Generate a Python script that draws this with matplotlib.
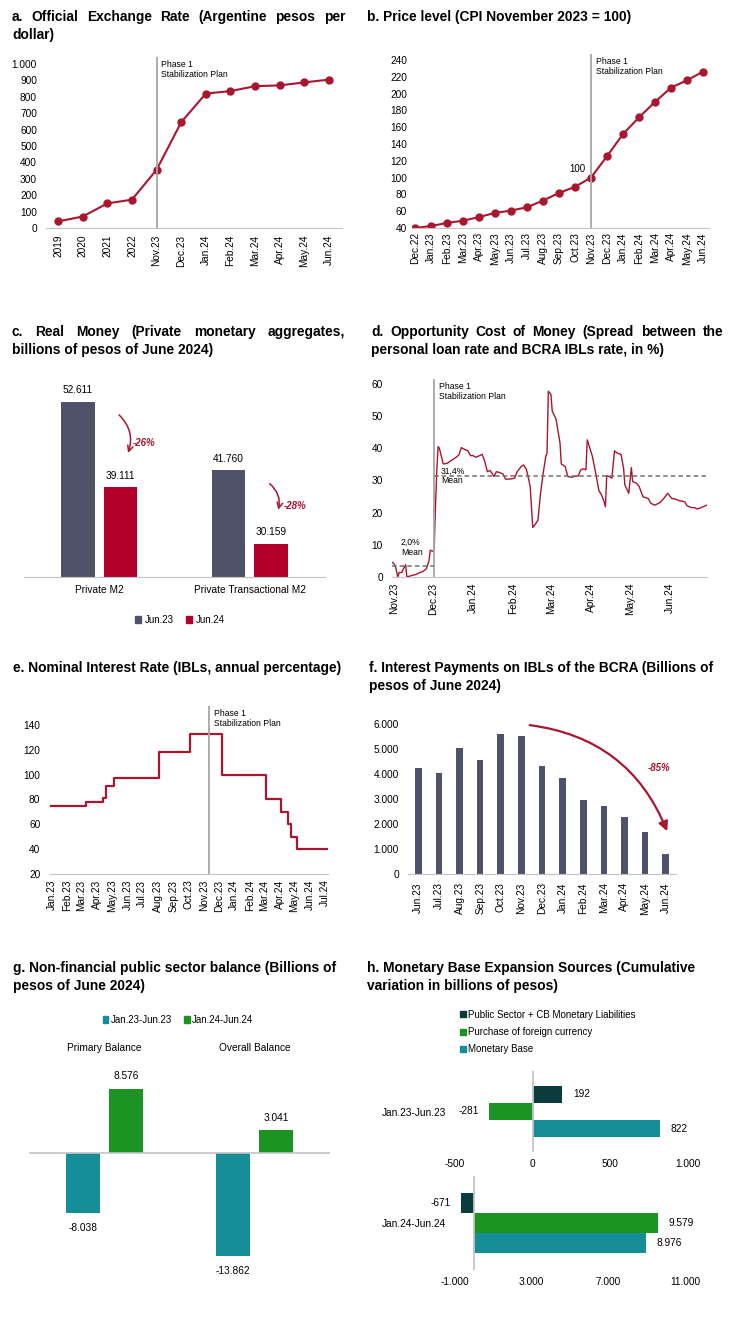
import matplotlib
matplotlib.use("Agg")
import matplotlib.pyplot as plt
import matplotlib.dates as mdates
from matplotlib.patches import Patch
import numpy as np
import pandas as pd

plt.rcParams['font.family'] = ['Liberation Sans', 'DejaVu Sans']

W, H = 732, 1332

# a. official exchange rate
fx_labels = ['2019', '2020', '2021', '2022', 'Nov.23', 'Dec.23', 'Jan.24', 'Feb.24',
             'Mar.24', 'Apr.24', 'May.24', 'Jun.24']
fx_values = [40, 70, 150, 173, 355, 645, 820, 835, 865, 870, 888, 905]

# b. CPI
cpi_labels = ['Dec.22', 'Jan.23', 'Feb.23', 'Mar.23', 'Apr.23', 'May.23', 'Jun.23', 'Jul.23',
              'Aug.23', 'Sep.23', 'Oct.23', 'Nov.23', 'Dec.23', 'Jan.24', 'Feb.24', 'Mar.24',
              'Apr.24', 'May.24', 'Jun.24']
cpi_values = [40, 42.4, 46, 48.7, 53, 58, 60.7, 64.7, 72.6, 81.7, 89, 100, 125.5, 151.7,
              171.6, 190, 207, 215.7, 226]

# c. real money
money_groups = ['Private M2', 'Private Transactional M2']
money_jun23 = [52611, 41760]
money_jun24 = [39111, 30159]
money_change = ['-26%', '-28%']

# d. opportunity cost (days since 2023-11-01)
spread_start = '2023-11-01'
spread_days = [-1, 1, 3, 4, 6, 7, 9, 10, 14, 17, 20, 22, 25, 27, 28, 30, 31, 32, 33, 34, 35,
               38, 41, 45, 48, 50, 52, 54, 57, 59, 61, 63, 66, 68, 70, 72, 74, 76, 77, 79, 81,
               84, 85, 86, 89, 92, 93, 95, 98, 100, 102, 104, 105, 107, 109, 111, 113, 115,
               117, 118, 119, 121, 122, 124, 125, 128, 129, 132, 134, 137, 139, 142, 144, 146,
               148, 149, 151, 153, 156, 158, 160, 162, 163, 164, 166, 168, 170, 172, 175, 177,
               178, 181, 183, 184, 187, 189, 192, 196, 198, 201, 205, 208, 211, 214, 217, 220,
               224, 226, 229, 232, 234, 237, 241]
spread_values = [4.5, 3.6, 0, 1.4, 1.4, 2.3, 3.8, 0, 0.5, 0.8, 1.4, 1.6, 2.6, 5, 8.3, 8, 8.5,
                 21.8, 32.7, 40.5, 40, 35.1, 35.3, 36.4, 37.2, 37.9, 40.2, 39.7, 39.2, 37.7,
                 37.7, 37.2, 37.7, 38.1, 35.9, 32.7, 33.1, 32, 31.2, 32.7, 32.5, 32, 31.2,
                 30.4, 30.4, 30.6, 30.7, 32.7, 34.3, 34.8, 33.5, 30.1, 28.1, 15.4, 16.4, 17.7,
                 26, 32.2, 37.4, 38.5, 57.7, 56.7, 51.5, 49.9, 48.9, 41.6, 35.1, 34.3, 31.2,
                 31, 31.2, 31.4, 33.3, 33.6, 33.3, 42.6, 40, 37.4, 31.2, 26.8, 25.5, 23.4,
                 21.8, 31.5, 31.2, 30.7, 39.2, 38.5, 38.1, 33.8, 28.6, 26, 34, 29.6, 29.1,
                 28.1, 24.9, 24.4, 22.9, 22.3, 23.1, 24.4, 26, 24.4, 24.2, 23.7, 23.4, 22.1,
                 21.6, 21.5, 21.1, 21.6, 22.3]
spread_plan_date = '2023-12-02'
mean_levels = [3.3, 31.4]
mean_labels = ['2,0%', '31,4%']

# e. IBL nominal rate (step changes)
rate_dates = ['2022-12-29', '2023-03-11', '2023-04-14', '2023-04-19', '2023-05-05',
              '2023-08-04', '2023-10-05', '2023-12-08', '2024-03-04', '2024-04-03',
              '2024-04-17', '2024-04-24', '2024-05-06', '2024-07-07']
rate_values = [75, 78, 81, 91, 97, 118, 133, 100, 80, 70, 60, 50, 40, 40]
rate_plan_date = '2023-11-12'

# f. interest payments on IBLs
ibl_labels = ['Jun.23', 'Jul.23', 'Aug.23', 'Sep.23', 'Oct.23', 'Nov.23', 'Dec.23', 'Jan.24',
              'Feb.24', 'Mar.24', 'Apr.24', 'May.24', 'Jun.24']
ibl_values = [4240, 4030, 5010, 4550, 5600, 5520, 4290, 3830, 2960, 2720, 2280, 1680, 800]
ibl_change = '-85%'

# g. public sector balance
balance_groups = ['Primary Balance', 'Overall Balance']
balance_2023 = [-8038, -13862]
balance_2024 = [8576, 3041]

# h. monetary base sources
mb_series = ['Public Sector + CB Monetary Liabilities', 'Purchase of foreign currency',
             'Monetary Base']
mb_2023 = [192, -281, 822]
mb_2024 = [-671, 9579, 8976]

RED_LINE = '#A8162F'
RED_BAR = '#B3002A'
SLATE = '#50526A'
TEAL = '#168E97'
GREEN = '#1C9322'
DARK = '#0B3C3D'
VGRAY = '#A6A6A6'
AXGRAY = '#C4C4C4'
TICK = 7.3


def fmt(v):
    return f'{v:,}'.replace(',', '.')


fig = plt.figure(figsize=(W / 100, H / 100), dpi=100)
renderer = fig.canvas.get_renderer()


def axes_px(left, top, right, bottom):
    return fig.add_axes([left / W, 1 - bottom / H, (right - left) / W, (bottom - top) / H])


def clean(ax, ypad=6.5, xpad=4):
    for s in ['top', 'right', 'left']:
        ax.spines[s].set_visible(False)
    ax.spines['bottom'].set_color(AXGRAY)
    ax.tick_params(length=0, labelsize=TICK)
    ax.tick_params(axis='y', pad=ypad)
    ax.tick_params(axis='x', pad=xpad)


def title(x0, y0, lines, width=None):
    for i, line in enumerate(lines):
        y = 1 - (y0 + i * 18) / H
        if width is None or i == len(lines) - 1:
            fig.text(x0 / W, y, line, fontsize=9.9, fontweight='bold', va='center')
            continue
        words = line.split()
        texts = [fig.text(0, y, w, fontsize=9.9, fontweight='bold', va='center') for w in words]
        widths = [t.get_window_extent(renderer).width for t in texts]
        gap = (width - sum(widths)) / (len(words) - 1)
        x = x0
        for t, w in zip(texts, widths):
            t.set_x(x / W)
            x += w + gap


def phase_label(ax, x):
    ax.axvline(x, color=VGRAY, lw=1.3)
    ax.annotate('Phase 1\nStabilization Plan', xy=(x, 1), xycoords=('data', 'axes fraction'),
                xytext=(3.5, -2), textcoords='offset points', va='top', ha='left',
                fontsize=6.2, linespacing=1.15)


# ---------- a ----------
title(12, 17, ['a. Official Exchange Rate (Argentine pesos per', 'dollar)'], width=333)
ax = axes_px(46, 57, 342, 228)
x = np.arange(len(fx_values))
ax.plot(x, fx_values, color=RED_LINE, lw=1.5, marker='o', ms=5)
ax.set_xlim(-0.49, 11.53)
ax.set_ylim(0, 1043)
ax.set_yticks(range(0, 1001, 100))
ax.set_yticklabels([fmt(v) for v in range(0, 1001, 100)])
ax.set_xticks(x)
ax.set_xticklabels(fx_labels, rotation=90)
clean(ax, ypad=6.5, xpad=5)
phase_label(ax, fx_labels.index('Nov.23'))

# ---------- b ----------
title(367, 17, ['b. Price level (CPI November 2023 = 100)'])
ax = axes_px(412, 54, 709, 228)
x = np.arange(len(cpi_values))
ax.plot(x, cpi_values, color=RED_LINE, lw=1.5, marker='o', ms=5)
ax.set_xlim(-0.19, 18.375)
ax.set_ylim(40, 247)
ax.set_yticks(range(40, 241, 20))
ax.set_xticks(x)
ax.set_xticklabels(cpi_labels, rotation=90)
clean(ax, ypad=3.6, xpad=3)
base = cpi_labels.index('Nov.23')
phase_label(ax, base)
ax.annotate(f'{cpi_values[base]:.0f}', xy=(base, cpi_values[base]), xytext=(-10, 6.5),
            textcoords='offset points', ha='center', va='center', fontsize=7)

# ---------- c ----------
title(12, 332, ['c. Real Money (Private monetary aggregates,', 'billions of pesos of June 2024)'],
      width=333)
ax = axes_px(24, 380, 325, 577)
g = np.arange(len(money_groups))
ax.bar(g - 0.141, money_jun23, width=0.2255, color=SLATE)
ax.bar(g + 0.141, money_jun24, width=0.2255, color=RED_BAR)
ax.set_xlim(-0.5, 1.5)
ax.set_ylim(25000, 56000)
ax.set_yticks([])
ax.set_xticks(g)
ax.set_xticklabels(money_groups)
clean(ax, xpad=6)
for i in g:
    for dx, v in ((-0.141, money_jun23[i]), (0.141, money_jun24[i])):
        ax.annotate(fmt(v), xy=(i + dx, v), xytext=(0, 8.5), textcoords='offset points',
                    ha='center', va='center', fontsize=TICK)
    ax.annotate('', xy=(i + 0.185, money_jun24[i] + 5000), xytext=(i + 0.118, money_jun23[i] - 1800),
                arrowprops=dict(arrowstyle='->', color=RED_LINE, lw=1.1,
                                connectionstyle='arc3,rad=-0.35'))
    ax.text(i + 0.3, (money_jun23[i] + money_jun24[i]) / 2 + 200, money_change[i], color=RED_LINE,
            fontsize=7, fontstyle='italic', fontweight='bold', ha='center', va='center')
fig.legend([Patch(color=SLATE), Patch(color=RED_BAR)], ['Jun.23', 'Jun.24'], loc='center',
           bbox_to_anchor=(180 / W, 1 - 620 / H), ncol=2, frameon=False, fontsize=7,
           handlelength=0.6, handleheight=0.6, handletextpad=0.4, columnspacing=1.2)

# ---------- d ----------
title(371, 332, ['d. Opportunity Cost of Money (Spread between the',
                 'personal loan rate and BCRA IBLs rate, in %)'], width=352)
ax = axes_px(392, 379, 707, 577)
start = pd.Timestamp(spread_start)
dates = start + pd.to_timedelta(spread_days, unit='D')
ax.plot(dates, spread_values, color=RED_LINE, lw=1.0)
plan = pd.Timestamp(spread_plan_date)
ax.set_xlim(start - pd.Timedelta(days=1.5), start + pd.Timedelta(days=241.3))
ax.set_ylim(0, 61.5)
ax.set_yticks(range(0, 61, 10))
ax.xaxis.set_major_locator(mdates.MonthLocator())
ax.xaxis.set_major_formatter(mdates.DateFormatter('%b.%y'))
plt.setp(ax.get_xticklabels(), rotation=90)
clean(ax, ypad=6.5, xpad=4)
phase_label(ax, plan)
ax.plot([ax.get_xlim()[0], mdates.date2num(plan)], [mean_levels[0]] * 2, color='#707070',
        lw=1.1, ls=(0, (3, 2)))
ax.plot([mdates.date2num(plan), ax.get_xlim()[1]], [mean_levels[1]] * 2, color='#707070',
        lw=1.1, ls=(0, (3, 2)))
ax.annotate(f'{mean_labels[0]}\nMean', xy=(start, mean_levels[0]), xytext=(5, 13.5),
            textcoords='offset points', fontsize=6.2, va='center', linespacing=1.1)
ax.annotate(f'{mean_labels[1]}\nMean', xy=(plan, mean_levels[1]), xytext=(5, 0),
            textcoords='offset points', fontsize=6.2, va='center', linespacing=1.1)

# ---------- e ----------
title(13, 668, ['e. Nominal Interest Rate (IBLs, annual percentage)'])
ax = axes_px(50, 706, 328, 874)
ax.step(pd.to_datetime(rate_dates), rate_values, where='post', color=RED_LINE, lw=1.6)
ax.set_xlim(pd.Timestamp('2022-12-28'), pd.Timestamp('2024-07-07'))
ax.set_ylim(20, 155.3)
ax.set_yticks(range(20, 141, 20))
ax.xaxis.set_major_locator(mdates.MonthLocator())
ax.xaxis.set_major_formatter(mdates.DateFormatter('%b.%y'))
plt.setp(ax.get_xticklabels(), rotation=90)
clean(ax, ypad=7, xpad=4)
phase_label(ax, pd.Timestamp(rate_plan_date))

# ---------- f ----------
title(369, 668, ['f. Interest Payments on IBLs of the BCRA (Billions of', 'pesos of June 2024)'])
ax = axes_px(408, 716, 676, 874)
x = np.arange(len(ibl_values))
ax.bar(x, ibl_values, width=0.32, color=SLATE)
ax.set_xlim(-0.5, 12.5)
ax.set_ylim(0, 6300)
ax.set_yticks(range(0, 6001, 1000))
ax.set_yticklabels([fmt(v) for v in range(0, 6001, 1000)])
ax.set_xticks(x)
ax.set_xticklabels(ibl_labels, rotation=90)
clean(ax, ypad=6.5, xpad=6)
nov = ibl_labels.index('Nov.23')
ax.annotate('', xy=(len(x) - 1 + 0.12, ibl_values[-1] + 800), xytext=(nov + 0.27, max(ibl_values) + 350),
            arrowprops=dict(arrowstyle='-|>', color=RED_LINE, lw=1.6, mutation_scale=14,
                            connectionstyle='arc3,rad=-0.3'))
ax.text(11.66, 4240, ibl_change, color=RED_LINE, fontsize=7, fontstyle='italic',
        fontweight='bold', ha='center', va='center')

# ---------- g ----------
title(13, 968, ['g. Non-financial public sector balance (Billions of', 'pesos of June 2024)'])
ax = axes_px(29, 1065, 330, 1280)
g = np.arange(len(balance_groups))
ax.bar(g - 0.143, balance_2023, width=0.226, color=TEAL)
ax.bar(g + 0.143, balance_2024, width=0.226, color=GREEN)
ax.set_xlim(-0.5, 1.5)
ax.set_ylim(-17020, 11790)
ax.axhline(0, color=AXGRAY, lw=1.2)
ax.set_xticks([])
ax.set_yticks([])
for s in ax.spines.values():
    s.set_visible(False)
for i in g:
    ax.text(i, 1.08, balance_groups[i], transform=ax.get_xaxis_transform(), ha='center',
            va='center', fontsize=TICK)
    for dx, v in ((-0.143, balance_2023[i]), (0.143, balance_2024[i])):
        off = 9 if v > 0 else -10.5
        ax.annotate(fmt(v), xy=(i + dx, v), xytext=(0, off), textcoords='offset points',
                    ha='center', va='center', fontsize=TICK)
fig.legend([Patch(color=TEAL), Patch(color=GREEN)], ['Jan.23-Jun.23', 'Jan.24-Jun.24'],
           loc='center', bbox_to_anchor=(178 / W, 1 - 1020 / H), ncol=2, frameon=False,
           fontsize=7, handlelength=0.6, handleheight=0.6, handletextpad=0.2, columnspacing=1.3)

# ---------- h ----------
title(367, 968, ['h. Monetary Base Expansion Sources (Cumulative', 'variation in billions of pesos)'])
fig.legend([Patch(color=DARK), Patch(color=GREEN), Patch(color=TEAL)], mb_series,
           loc='upper left', bbox_to_anchor=(451 / W, 1 - 1001 / H), frameon=False, fontsize=7,
           handlelength=0.6, handleheight=0.6, handletextpad=0.2, labelspacing=0.75)
colors = [DARK, GREEN, TEAL]
pos = [1, 0, -1]
for vals, box, lim, ticks, period, ext in (
        (mb_2023, (455, 1071, 688, 1152), (-500, 1000), [-500, 0, 500, 1000], 'Jan.23-Jun.23', 2.38),
        (mb_2024, (455, 1176, 685, 1270), (-1000, 11000), [-1000, 3000, 7000, 11000], 'Jan.24-Jun.24', 2.35)):
    ax = axes_px(*box)
    ax.barh(pos, vals, height=1, color=colors)
    ax.set_xlim(*lim)
    ax.set_ylim(-ext, ext)
    ax.axvline(0, color=AXGRAY, lw=1.3)
    for s in ax.spines.values():
        s.set_visible(False)
    ax.set_xticks(ticks)
    ax.set_xticklabels([fmt(t) for t in ticks])
    ax.set_yticks([0])
    ax.set_yticklabels([period])
    ax.tick_params(length=0, labelsize=TICK)
    ax.tick_params(axis='y', pad=6.5)
    ax.tick_params(axis='x', pad=5)
    for p, v in zip(pos, vals):
        ax.annotate(fmt(v), xy=(v, p), xytext=(7.5 if v > 0 else -7.5, 0),
                    textcoords='offset points', ha='left' if v > 0 else 'right', va='center',
                    fontsize=TICK)

fig.savefig('out.png', dpi=100)
